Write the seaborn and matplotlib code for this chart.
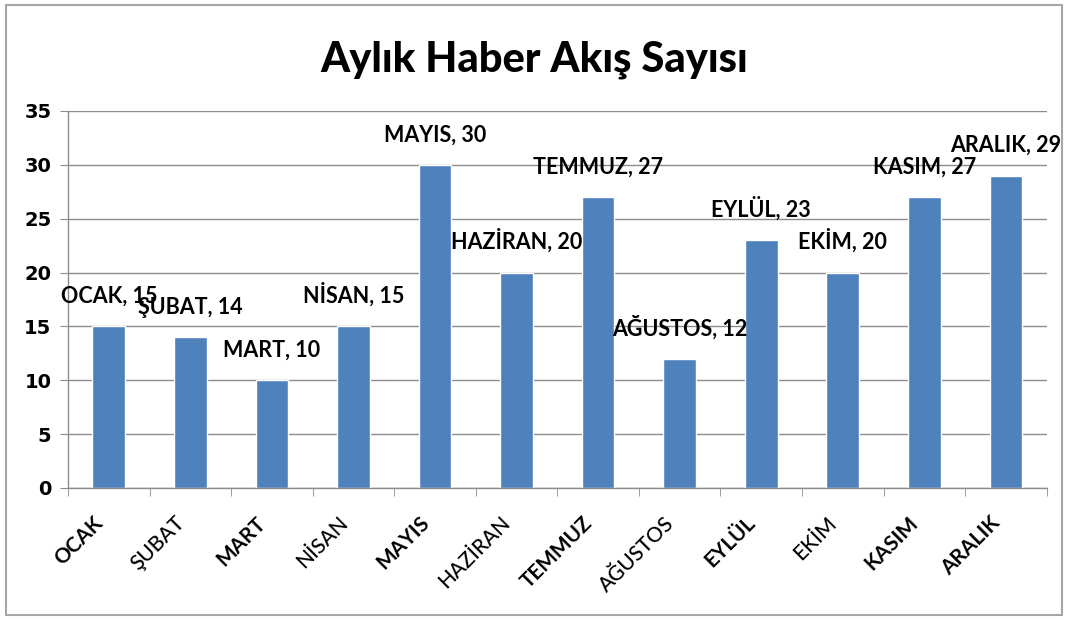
import matplotlib
matplotlib.use("Agg")
import matplotlib.pyplot as plt
import matplotlib.transforms as mtransforms
import seaborn as sns
import pandas as pd
from matplotlib.patches import Rectangle

# chart data
months = ["OCAK", "ŞUBAT", "MART", "NİSAN", "MAYIS", "HAZİRAN",
          "TEMMUZ", "AĞUSTOS", "EYLÜL", "EKİM", "KASIM", "ARALIK"]
counts = [15, 14, 10, 15, 30, 20, 27, 12, 23, 20, 27, 29]
# labels with Turkish dotted/breve letters were drawn in a lighter weight
light_labels = ["ŞUBAT", "NİSAN", "HAZİRAN", "AĞUSTOS", "EKİM"]
y_ticks = [0, 5, 10, 15, 20, 25, 30, 35]

sns.set_style("white")
plt.rcParams["font.family"] = ["Lato", "DejaVu Sans"]
plt.rcParams["text.color"] = "black"
plt.rcParams["xtick.color"] = "black"
plt.rcParams["ytick.color"] = "black"

df = pd.DataFrame({"month": months, "count": counts})

fig = plt.figure(figsize=(10.68, 6.2), dpi=100)
ax = fig.add_axes([0.0637, 0.213, 0.9163, 0.608])

sns.barplot(data=df, x="month", y="count", order=months, color="#4F81BD",
            width=0.4, saturation=1, ax=ax)

ax.set_ylim(0, 35)
ax.set_xlim(-0.5, len(months) - 0.5)
ax.set_yticks(y_ticks)
ax.set_yticklabels([str(t) for t in y_ticks], fontsize=14, fontweight="bold",
                   family=["DejaVu Sans"])
ax.yaxis.grid(True, color="#8c8c8c", linewidth=1)
ax.set_axisbelow(True)

for s in ["top", "right"]:
    ax.spines[s].set_visible(False)
for s in ["left", "bottom"]:
    ax.spines[s].set_color("#8c8c8c")
    ax.spines[s].set_linewidth(1)

ax.tick_params(axis="y", length=6, color="#8c8c8c", labelcolor="black", pad=6, left=True)
# category boundary tick marks on x axis, month names drawn as rotated texts
ax.set_xticks([i - 0.5 for i in range(len(months) + 1)], minor=True)
ax.tick_params(axis="x", which="minor", length=6, color="#8c8c8c", bottom=True)
ax.tick_params(axis="x", which="major", length=0, labelbottom=False)
ax.set_xlabel("")
ax.set_ylabel("")

lab_trans = ax.get_xaxis_transform() + mtransforms.ScaledTranslation(
    -9 / 100, -32 / 100, fig.dpi_scale_trans)
for i, m in enumerate(months):
    ax.text(i, 0, m, transform=lab_trans, rotation=45, ha="right", va="center",
            rotation_mode="anchor", fontsize=15, color="black",
            fontweight="medium" if m in light_labels else "bold")

for i, (m, v) in enumerate(zip(months, counts)):
    ax.annotate(f"{m}, {v}", (i, v), xytext=(0, 14), textcoords="offset points",
                ha="center", va="bottom", fontsize=15.5, fontweight="bold",
                color="black")

fig.suptitle("Aylık Haber Akış Sayısı", fontsize=30, fontweight="black",
             color="black", y=0.935)

fig.patches.append(Rectangle((0.006, 0.008), 0.988, 0.984, transform=fig.transFigure,
                             fill=False, edgecolor="#a6a6a6", linewidth=1.5))

fig.savefig("out.png", dpi=100, facecolor="white")
